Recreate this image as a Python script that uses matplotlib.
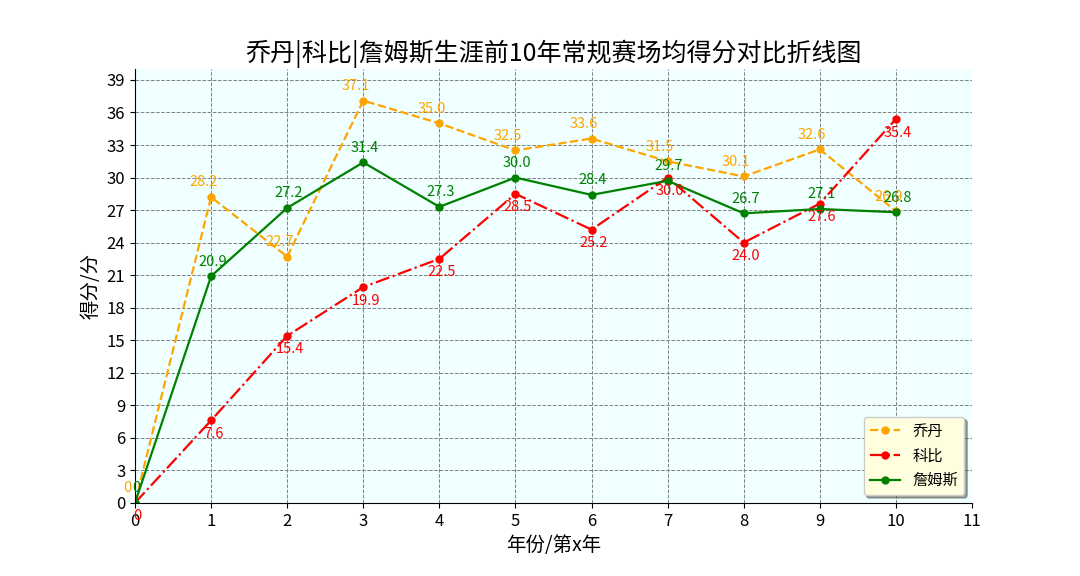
import matplotlib
matplotlib.use("Agg")
import matplotlib.pyplot as plt

plt.rcParams['font.family'] = ['Noto Sans CJK SC', 'DejaVu Sans']
plt.rcParams['axes.unicode_minus'] = False

years = list(range(0, 11))
jordan = [0, 28.2, 22.7, 37.1, 35.0, 32.5, 33.6, 31.5, 30.1, 32.6, 26.9]
kobe = [0, 7.6, 15.4, 19.9, 22.5, 28.5, 25.2, 30.0, 24.0, 27.6, 35.4]
james = [0, 20.9, 27.2, 31.4, 27.3, 30.0, 28.4, 29.7, 26.7, 27.1, 26.8]

fig = plt.figure(figsize=(10.8, 5.76), dpi=100)
ax = fig.add_axes([0.125, 0.127, 0.775, 0.753])
ax.set_facecolor('azure')

ax.plot(years, jordan, color='orange', linestyle='--', marker='o', markersize=5, linewidth=1.6, label='乔丹')
ax.plot(years, kobe, color='red', linestyle='-.', marker='o', markersize=5, linewidth=1.6, label='科比')
ax.plot(years, james, color='green', linestyle='-', marker='o', markersize=5, linewidth=1.6, label='詹姆斯')

# 数据标签
for x, y in zip(years, jordan):
    ax.text(x - 0.1, y + 0.7, y if y == 0 else f'{y:.1f}', color='orange', ha='center', va='bottom', fontsize=10.5)
for x, y in zip(years, kobe):
    ax.text(x + 0.03, y - 0.6, y if y == 0 else f'{y:.1f}', color='red', ha='center', va='top', fontsize=10.5)
for x, y in zip(years, james):
    ax.text(x + 0.02, y + 0.7, y if y == 0 else f'{y:.1f}', color='green', ha='center', va='bottom', fontsize=10.5)

ax.set_xlim(0, 11)
ax.set_ylim(0, 40)
ax.set_xticks(range(0, 12))
ax.set_yticks(range(0, 40, 3))
ax.tick_params(labelsize=12)
ax.grid(True, linestyle='--', color='gray', linewidth=0.7)
ax.spines['top'].set_visible(False)
ax.spines['right'].set_visible(False)

ax.set_title('乔丹|科比|詹姆斯生涯前10年常规赛场均得分对比折线图', fontsize=18)
ax.set_xlabel('年份/第x年', fontsize=14)
ax.set_ylabel('得分/分', fontsize=14)
ax.legend(loc='lower right', facecolor='lightyellow', shadow=True, fontsize=11)

fig.savefig('out.png', dpi=100)
